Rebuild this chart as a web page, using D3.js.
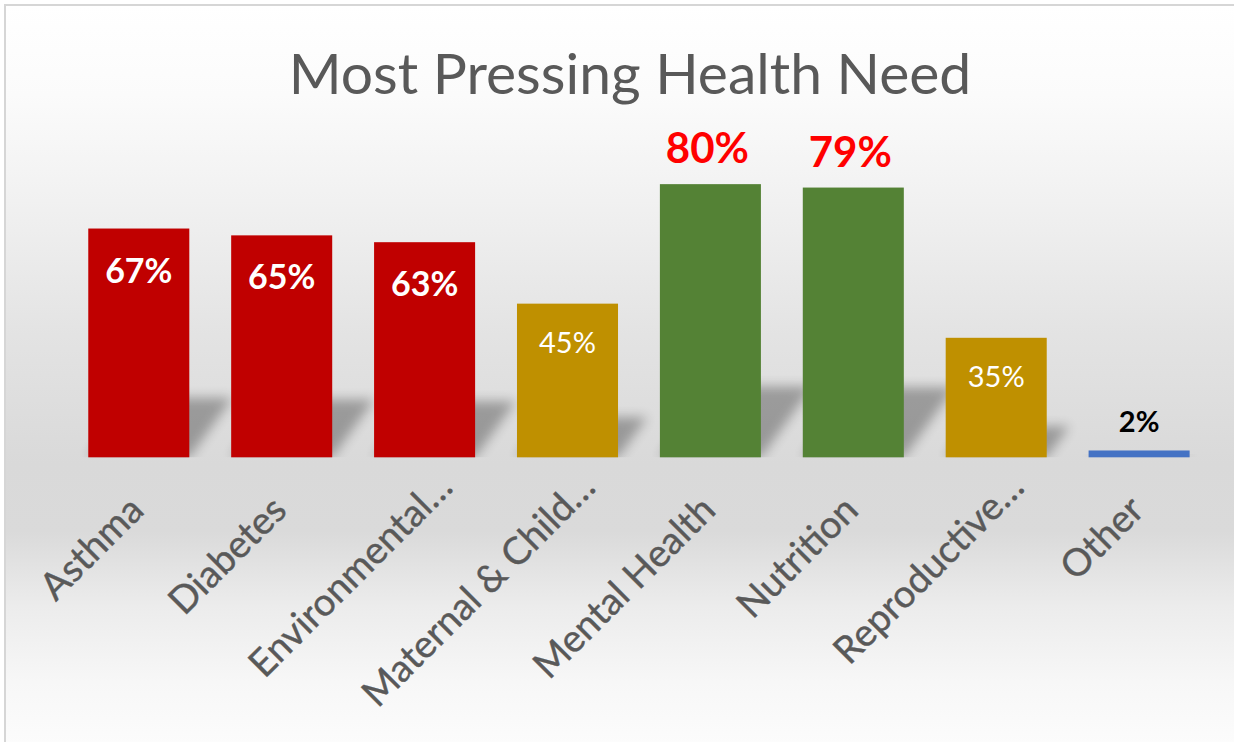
<!DOCTYPE html>
<html>
<head>
<meta charset="utf-8">
<script src="https://cdn.jsdelivr.net/npm/d3@7"></script>
<style>
  html, body { margin: 0; padding: 0; background: #ffffff; }
  svg { display: block; }
</style>
</head>
<body>
<svg id="chart" width="1234" height="742"></svg>
<script>
// ---- data ----
const title = "Most Pressing Health Need";
const categories = ["Asthma", "Diabetes", "Environmental…", "Maternal & Child…", "Mental Health", "Nutrition", "Reproductive…", "Other"];
const values = [0.67, 0.65, 0.63, 0.45, 0.80, 0.79, 0.35, 0.02];
const tiers = ["high", "high", "high", "mid", "top", "top", "mid", "other"];
const tierNames = ["high", "mid", "top", "other"];

// ---- styles ----
const tierColors = ["#C00000", "#BF9000", "#548235", "#4472C4"];
const labelStyle = {
  high:  { dy: 54,  size: 34, weight: 700, fill: "#ffffff" },
  mid:   { dy: 49,  size: 29, weight: 400, fill: "#ffffff" },
  top:   { dy: -21, size: 42, weight: 700, fill: "#ff0000" },
  other: { dy: -18, size: 29, weight: 700, fill: "#000000" }
};
const FONT = "Lato, 'Open Sans', sans-serif";

const W = 1234, H = 742;
const svg = d3.select("#chart");
const defs = svg.append("defs");

// background gradient
const bg = defs.append("linearGradient").attr("id", "bgGrad")
  .attr("x1", 0).attr("y1", 0).attr("x2", 0).attr("y2", 1);
[[0, "#ffffff"], [0.12, "#fbfbfb"], [0.26, "#f1f1f1"], [0.44, "#e3e3e3"], [0.61, "#d9d9d9"],
 [0.70, "#dadada"], [0.80, "#ececec"], [0.90, "#f7f7f7"], [1, "#fdfdfd"]]
  .forEach(([o, c]) => bg.append("stop").attr("offset", o).attr("stop-color", c));

defs.append("filter").attr("id", "shadowBlur")
  .attr("x", "-50%").attr("y", "-50%").attr("width", "200%").attr("height", "200%")
  .append("feGaussianBlur").attr("stdDeviation", 6);

svg.append("rect").attr("x", 5).attr("y", 5).attr("width", W + 10).attr("height", H + 10)
  .attr("fill", "url(#bgGrad)").attr("stroke", "#d6d6d6").attr("stroke-width", 2);

// scales
const x = d3.scaleBand().domain(categories).range([46.4, 1231.5]).padding(0.293);
const y = d3.scaleLinear().domain([0, 0.9]).range([457.3, 150]);
const color = d3.scaleOrdinal().domain(tierNames).range(tierColors);

const data = categories.map((c, i) => ({ cat: c, v: values[i], tier: tiers[i] }));
const base = y(0);

// clip for shadows (nothing below the axis)
defs.append("clipPath").attr("id", "plotClip")
  .append("rect").attr("x", 0).attr("y", 0).attr("width", W).attr("height", base);

// perspective shadows
svg.append("g").attr("clip-path", "url(#plotClip)")
  .selectAll("polygon").data(data).join("polygon")
  .attr("points", d => {
    const x0 = x(d.cat), x1 = x0 + x.bandwidth();
    const h = base - y(d.v);
    const sh = h * 0.26, sx = h * 0.19;
    return [[x0, base], [x1, base], [x1 + sx, base - sh], [x0 + sx, base - sh]].map(p => p.join(",")).join(" ");
  })
  .attr("fill", "#000").attr("opacity", 0.3)
  .attr("filter", "url(#shadowBlur)");

// bars
svg.append("g").selectAll("rect").data(data).join("rect")
  .attr("x", d => x(d.cat))
  .attr("y", d => y(d.v))
  .attr("width", x.bandwidth())
  .attr("height", d => base - y(d.v))
  .attr("fill", d => color(d.tier));

// value labels
svg.append("g").selectAll("text").data(data).join("text")
  .attr("x", d => x(d.cat) + x.bandwidth() / 2 + (d.tier === "top" ? -3 : 0))
  .attr("y", d => y(d.v) + labelStyle[d.tier].dy)
  .attr("text-anchor", "middle")
  .attr("font-family", FONT)
  .attr("font-size", d => labelStyle[d.tier].size)
  .attr("font-weight", d => labelStyle[d.tier].weight)
  .attr("fill", d => labelStyle[d.tier].fill)
  .text(d => d3.format(".0%")(d.v));

// category axis labels (rotated); truncated labels sit further along the diagonal
const xAxis = d3.axisBottom(x).tickSize(0).tickPadding(0);
const gx = svg.append("g").attr("transform", `translate(0,${base})`).call(xAxis);
gx.select(".domain").remove();
gx.selectAll(".tick text")
  .attr("font-family", FONT)
  .attr("font-size", 38)
  .attr("fill", "#595959")
  .attr("stroke", "#595959")
  .attr("stroke-width", 0.4)
  .attr("text-anchor", "end")
  .attr("dy", null)
  .attr("transform", d => d.endsWith("…")
    ? "translate(30,32) rotate(-45)"
    : "translate(7,55) rotate(-45)");

// title
svg.append("text")
  .attr("x", 630).attr("y", 94)
  .attr("text-anchor", "middle")
  .attr("font-family", FONT)
  .attr("font-size", 57)
  .attr("fill", "#595959")
  .text(title);
</script>
</body>
</html>
